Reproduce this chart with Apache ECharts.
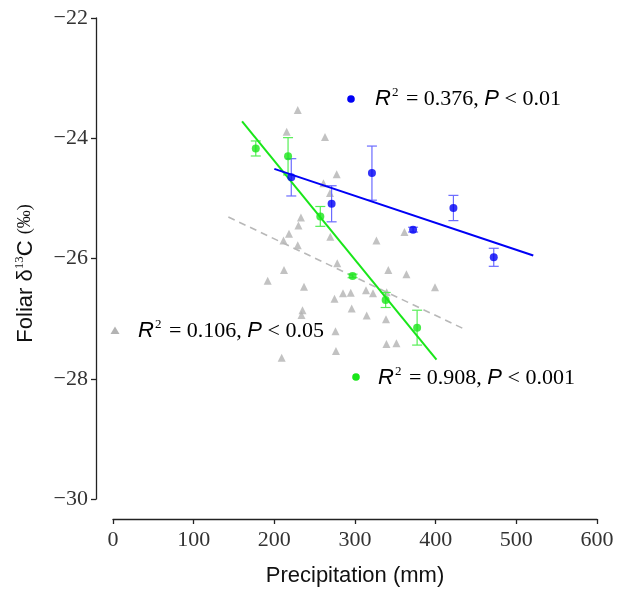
<!DOCTYPE html>
<html><head><meta charset="utf-8">
<script src="https://cdn.jsdelivr.net/npm/echarts@6/dist/echarts.min.js"></script>
<style>html,body{margin:0;padding:0;background:#fff}#c{width:619px;height:592px}</style>
</head><body><div id="c"></div>
<script>
// ---- data ----
const xTicks = [0, 100, 200, 300, 400, 500, 600];
const yTicks = [-30, -28, -26, -24, -22];

const grayX = [229.0, 215.3, 262.8, 277.3, 260.9, 269.0, 233.0, 229.9, 218.2, 211.4, 229.0, 269.4, 326.6, 361.3, 278.0, 212.0, 191.8, 236.8, 341.3, 363.8, 399.2, 274.6, 285.1, 294.7, 313.6, 322.3, 339.3, 295.9, 314.5, 338.4, 234.9, 233.7, 275.8, 339.0, 351.4, 276.4, 209.1];
const grayY = [-23.53, -23.89, -23.98, -24.60, -24.75, -24.91, -25.32, -25.45, -25.59, -25.70, -25.78, -25.64, -25.70, -25.56, -26.08, -26.19, -26.37, -26.47, -26.19, -26.26, -26.48, -26.67, -26.58, -26.57, -26.53, -26.58, -26.56, -26.83, -26.95, -27.01, -26.86, -26.94, -27.21, -27.42, -27.41, -27.54, -27.65];

const blueX = [221, 271, 321, 372, 422, 472];
const blueY = [-24.65, -25.09, -24.58, -25.52, -25.16, -25.98];
const blueErr = [0.31, 0.30, 0.45, 0.04, 0.21, 0.15];

const greenX = [177, 217, 257, 297, 338, 377];
const greenY = [-24.17, -24.30, -25.30, -26.29, -26.69, -27.15];
const greenErr = [0.125, 0.31, 0.165, 0.03, 0.125, 0.29];

const blueFitX = [200, 521];
const blueFitY = [-24.51, -25.95];
const greenFitX = [160, 401];
const greenFitY = [-23.72, -27.68];
const grayFitX = [143, 438];
const grayFitY = [-25.31, -27.19];

const blueStat = ['0.376', '0.01'];
const greenStat = ['0.908', '0.001'];
const grayStat = ['0.106', '0.05'];

// ---- helpers ----
const zip2 = (a, b) => a.map((v, i) => [v, b[i]]);
const zip3 = (a, b, c) => a.map((v, i) => [v, b[i], c[i]]);

function errRenderer(color) {
  return function (params, api) {
    const x = api.value(0), y = api.value(1), e = api.value(2);
    const top = api.coord([x, y + e]);
    const bot = api.coord([x, y - e]);
    const hw = 5;
    const st = { stroke: color, lineWidth: 1.2 };
    return { type: 'group', children: [
      { type: 'line', shape: { x1: top[0], y1: top[1], x2: bot[0], y2: bot[1] }, style: st },
      { type: 'line', shape: { x1: top[0] - hw, y1: top[1], x2: top[0] + hw, y2: top[1] }, style: st },
      { type: 'line', shape: { x1: bot[0] - hw, y1: bot[1], x2: bot[0] + hw, y2: bot[1] }, style: st }
    ]};
  };
}

const rich = {
  i: { fontFamily: 'Liberation Sans', fontStyle: 'italic', fontSize: 22, color: '#151515' },
  s: { fontFamily: 'Liberation Serif', fontSize: 13, color: '#151515', padding: [0, 2, 12, 1] },
  n: { fontFamily: 'Liberation Serif', fontSize: 22, color: '#151515' }
};
const statText = s => '{i|R}{s|2}{n| = ' + s[0] + ', }{i|P}{n| < ' + s[1] + '}';

const BLUE = '#0000f5', GREEN = '#19e619', GRAY = '#b3b3b3';

const chart = echarts.init(document.getElementById('c'), null, { renderer: 'canvas' });
chart.setOption({
  animation: false,
  backgroundColor: '#fff',
  grid: { left: 113, right: 22, top: 18, bottom: 90 },
  xAxis: {
    type: 'value', min: xTicks[0], max: xTicks[xTicks.length - 1], interval: 100,
    offset: 20,
    axisLine: { show: true, onZero: false, lineStyle: { color: '#222', width: 1.3 } },
    axisTick: { show: true, inside: false, length: 5, lineStyle: { color: '#222', width: 1.3 } },
    splitLine: { show: false },
    axisLabel: { margin: 10, fontFamily: 'Liberation Serif', fontSize: 22, color: '#333' },
    name: 'Precipitation (mm)', nameLocation: 'middle', nameGap: 46,
    nameTextStyle: { fontFamily: 'Liberation Sans', fontSize: 22, color: '#111' }
  },
  yAxis: {
    type: 'value', min: yTicks[0], max: yTicks[yTicks.length - 1], interval: 2,
    offset: 17,
    axisLine: { show: true, onZero: false, lineStyle: { color: '#222', width: 1.3 } },
    axisTick: { show: true, inside: false, length: 5, lineStyle: { color: '#222', width: 1.3 } },
    splitLine: { show: false },
    axisLabel: { margin: 8, fontFamily: 'Liberation Serif', fontSize: 22, color: '#333',
      formatter: v => String(v).replace('-', '\u2212') },
    name: '{a|Foliar δ}{s|13}{a|C }{b|(‰)}', nameLocation: 'middle', nameGap: 58, nameRotate: 90,
    nameTextStyle: {
      padding: [0, 30, 0, 0],
      rich: {
        a: { fontFamily: 'Liberation Sans', fontSize: 22, color: '#111' },
        b: { fontFamily: 'Liberation Serif', fontSize: 18, color: '#111' },
        s: { fontFamily: 'Liberation Serif', fontSize: 13, color: '#111', padding: [0, 0, 12, 0] }
      }
    }
  },
  series: [
    { type: 'scatter', name: 'all', data: zip2(grayX, grayY), symbol: 'triangle', symbolSize: 8,
      itemStyle: { color: GRAY }, z: 2 },
    { type: 'line', data: zip2(grayFitX, grayFitY), symbol: 'none',
      lineStyle: { color: '#b8b8b8', width: 1.6, type: [7, 5] }, z: 3 },
    { type: 'custom', data: zip3(greenX, greenY, greenErr), renderItem: errRenderer('#55ee55'),
      encode: { x: 0, y: 1 }, z: 4 },
    { type: 'custom', data: zip3(blueX, blueY, blueErr), renderItem: errRenderer('#6b6bff'),
      encode: { x: 0, y: 1 }, z: 4 },
    { type: 'line', data: zip2(greenFitX, greenFitY), symbol: 'none',
      lineStyle: { color: GREEN, width: 2 }, z: 5 },
    { type: 'line', data: zip2(blueFitX, blueFitY), symbol: 'none',
      lineStyle: { color: BLUE, width: 2 }, z: 5 },
    { type: 'scatter', data: zip2(greenX, greenY), symbol: 'circle', symbolSize: 8,
      itemStyle: { color: GREEN }, z: 6 },
    { type: 'scatter', data: zip2(blueX, blueY), symbol: 'circle', symbolSize: 8,
      itemStyle: { color: BLUE }, z: 6 }
  ],
  graphic: [
    { type: 'circle', shape: { cx: 351, cy: 99, r: 3.8 }, style: { fill: BLUE } },
    { type: 'text', x: 375, y: 99, style: { text: statText(blueStat), rich: rich, verticalAlign: 'middle', align: 'left' } },
    { type: 'polygon', shape: { points: [[115, 326.5], [119.5, 334], [110.5, 334]] }, style: { fill: GRAY } },
    { type: 'text', x: 138, y: 331, style: { text: statText(grayStat), rich: rich, verticalAlign: 'middle', align: 'left' } },
    { type: 'circle', shape: { cx: 356, cy: 377, r: 3.8 }, style: { fill: GREEN } },
    { type: 'text', x: 378, y: 378, style: { text: statText(greenStat), rich: rich, verticalAlign: 'middle', align: 'left' } }
  ]
});
</script>
</body></html>
